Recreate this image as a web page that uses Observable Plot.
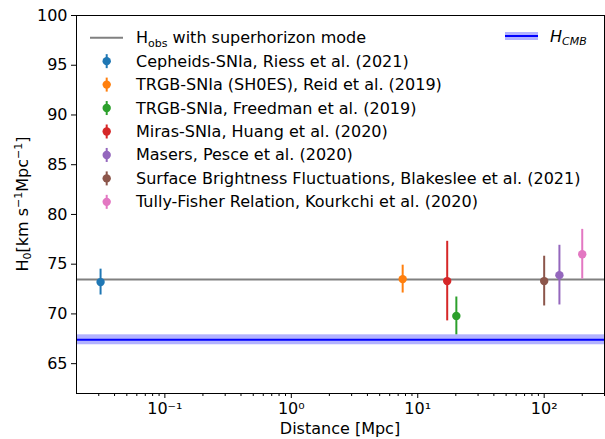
<!DOCTYPE html>
<html><head><meta charset="utf-8">
<script src="https://cdn.jsdelivr.net/npm/d3@7"></script>
<script src="https://cdn.jsdelivr.net/npm/@observablehq/plot@0.6"></script>
<style>body{margin:0;background:#fff}</style>
</head><body><div id="chart"></div>
<script>
const names = [
  "Cepheids-SNIa, Riess et al. (2021)",
  "TRGB-SNIa (SH0ES), Reid et al. (2019)",
  "TRGB-SNIa, Freedman et al. (2019)",
  "Miras-SNIa, Huang et al. (2020)",
  "Masers, Pesce et al. (2020)",
  "Surface Brightness Fluctuations, Blakeslee et al. (2021)",
  "Tully-Fisher Relation, Kourkchi et al. (2020)"
];
const distances = [0.031, 7.6, 20.2, 17.1, 132, 100, 200];
const h0Values = [73.2, 73.5, 69.8, 73.3, 73.9, 73.3, 76.0];
const h0Errors = [1.3, 1.4, 1.9, 4.0, 3.0, 2.5, 2.5];
const colors = ["#1f77b4", "#ff7f0e", "#2ca02c", "#d62728", "#9467bd", "#8c564b", "#e377c2"];
const hObs = 73.45;
const hCMB = 67.4;
const hCMBerr = 0.5;
const xDomain = [0.02, 300];
const yDomain = [62, 100];
const yTicks = [65, 70, 75, 80, 85, 90, 95, 100];
const xMajor = [0.1, 1, 10, 100];
const xTickLabels = ["10\u207B\u00B9", "10\u2070", "10\u00B9", "10\u00B2"];
const xMinor = [0.03,0.04,0.05,0.06,0.07,0.08,0.09,0.2,0.3,0.4,0.5,0.6,0.7,0.8,0.9,2,3,4,5,6,7,8,9,20,30,40,50,60,70,80,90,200,300];

const data = names.map((n, i) => ({name: n, d: distances[i], h: h0Values[i], e: h0Errors[i], c: colors[i]}));

const FS = 16;
const plot = Plot.plot({
  width: 605, height: 439,
  marginLeft: 76, marginRight: 1, marginTop: 15, marginBottom: 46,
  style: {fontFamily: "'DejaVu Sans', sans-serif", fontSize: FS + "px", background: "white", color: "black"},
  x: {type: "log", domain: xDomain},
  y: {domain: yDomain},
  color: {type: "identity"},
  marks: [
    Plot.rect([0], {x1: () => xDomain[0], x2: () => xDomain[1], y1: () => hCMB - hCMBerr, y2: () => hCMB + hCMBerr, fill: "blue", fillOpacity: 0.3}),
    Plot.ruleY([hCMB], {stroke: "blue", strokeWidth: 2}),
    Plot.ruleY([hObs], {stroke: "gray", strokeWidth: 2}),
    Plot.ruleX(data, {x: "d", y1: d => d.h - d.e, y2: d => d.h + d.e, stroke: "c", strokeWidth: 2}),
    Plot.dot(data, {x: "d", y: "h", fill: "c", r: 4.2}),
    Plot.axisY({ticks: yTicks, tickSize: 5, tickPadding: 4, fontSize: FS, label: null}),
    Plot.axisX({ticks: xMajor, tickFormat: d => xTickLabels[xMajor.indexOf(d)], tickSize: 5, tickPadding: 4, fontSize: FS, label: null}),
    Plot.axisX({ticks: xMinor, tickFormat: () => "", tickSize: 3, label: null}),
    Plot.frame({stroke: "black"})
  ]
});
document.getElementById("chart").appendChild(plot);

// Legend and axis labels (drawn into the same svg)
const svg = d3.select(plot);
const SUB = 11;
const g = svg.append("g").attr("font-family", "'DejaVu Sans', sans-serif").attr("font-size", FS).attr("fill", "black").attr("text-anchor", "start");
const legX = 90, legTextX = 136, row0 = 37.7, rowStep = 23.45;
g.append("line").attr("x1", legX).attr("x2", legX + 33).attr("y1", row0).attr("y2", row0).attr("stroke", "gray").attr("stroke-width", 2);
const t0 = g.append("text").attr("x", legTextX).attr("y", row0 + 5.5).attr("text-anchor", "start");
t0.append("tspan").text("H");
t0.append("tspan").attr("font-size", SUB).attr("dy", 4).text("obs");
t0.append("tspan").attr("dy", -4).text(" with superhorizon mode");
data.forEach((d, i) => {
  const y = row0 + rowStep * (i + 1);
  g.append("line").attr("x1", legX + 16.7).attr("x2", legX + 16.7).attr("y1", y - 7).attr("y2", y + 7).attr("stroke", d.c).attr("stroke-width", 2);
  g.append("circle").attr("cx", legX + 16.7).attr("cy", y).attr("r", 4.2).attr("fill", d.c);
  g.append("text").attr("x", legTextX).attr("y", y + 5.5).attr("text-anchor", "start").text(d.name);
});
// H_CMB legend
g.append("rect").attr("x", 505).attr("y", 32).attr("width", 33).attr("height", 8).attr("fill", "blue").attr("fill-opacity", 0.3);
g.append("line").attr("x1", 505).attr("x2", 538).attr("y1", 36).attr("y2", 36).attr("stroke", "blue").attr("stroke-width", 2);
const tc = g.append("text").attr("x", 550).attr("y", 41.5).attr("font-style", "italic").attr("text-anchor", "start");
tc.append("tspan").text("H");
tc.append("tspan").attr("font-size", SUB).attr("dy", 3).text("CMB");

// X label
g.append("text").attr("x", 340).attr("y", 434).attr("text-anchor", "middle").text("Distance [Mpc]");
// Y label
const yl = g.append("text").attr("transform", "translate(28,204) rotate(-90)").attr("text-anchor", "middle");
yl.append("tspan").text("H");
yl.append("tspan").attr("font-size", SUB).attr("dy", 3).text("0");
yl.append("tspan").attr("dy", -3).text("[km s");
yl.append("tspan").attr("font-size", SUB).attr("dy", -6).text("\u22121");
yl.append("tspan").attr("dy", 6).text("Mpc");
yl.append("tspan").attr("font-size", SUB).attr("dy", -6).text("\u22121");
yl.append("tspan").attr("dy", 6).text("]");
</script>
</body></html>
